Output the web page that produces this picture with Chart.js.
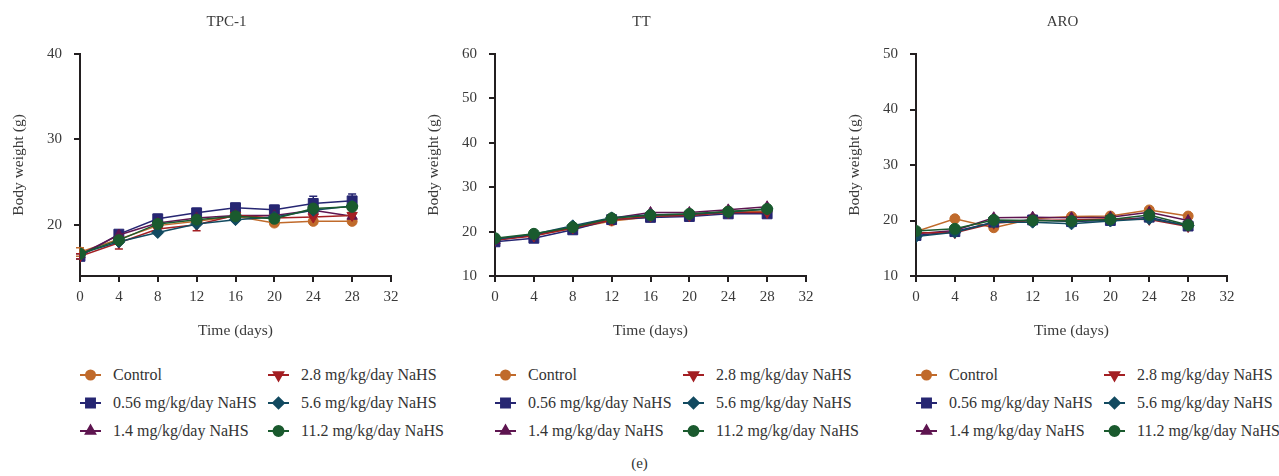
<!DOCTYPE html>
<html>
<head>
<meta charset="utf-8">
<script src="https://cdn.jsdelivr.net/npm/chart.js@4.4.1/dist/chart.umd.min.js"></script>
<style>
  html, body { margin: 0; padding: 0; background: #fff; overflow: hidden; }
  body { width: 1279px; height: 476px; position: relative; font-family: "Liberation Serif", "DejaVu Serif", serif; color: #333; }
  .panel { position: absolute; top: 0; }
  .legend-item { position: absolute; height: 18px; font-size: 16px; line-height: 18px; white-space: nowrap; }
  .legend-item canvas { position: absolute; left: 0; top: 0; }
  .legend-item span { position: absolute; left: 33px; top: 0; }
  #caption { position: absolute; left: 0; width: 1279px; top: 455px; text-align: center; font-size: 15px; }
</style>
</head>
<body>
<div id="caption">(e)</div>
<script>
// x values (days) and groups
const days = [0, 4, 8, 12, 16, 20, 24, 28]
const xTicks = [0, 4, 8, 12, 16, 20, 24, 28, 32]
const groupNames = ['Control', '0.56 mg/kg/day NaHS', '1.4 mg/kg/day NaHS',
  '2.8 mg/kg/day NaHS', '5.6 mg/kg/day NaHS', '11.2 mg/kg/day NaHS']
const groupColors = ['#c06a2b', '#262672', '#5e1550', '#a31f23', '#124a60', '#1a5a2e']
const groupShapes = ['circle', 'rect', 'triangle', 'triangle', 'rectRot', 'circle']
const groupRotation = [0, 0, 0, 180, 0, 0]
const groupRadius = [5, 7, 6, 6, 6, 5.5]

// body weight (g), one row per group in the order of groupNames
const tpc1Weights = [
  [16.8, 18.3, 19.9, 20.4, 21.0, 20.2, 20.4, 20.4],
  [16.3, 18.9, 20.7, 21.4, 22.0, 21.75, 22.5, 22.8],
  [16.5, 18.8, 20.2, 20.8, 21.1, 21.1, 21.7, 21.0],
  [16.3, 17.9, 19.5, 20.0, 21.1, 20.8, 20.9, 21.1],
  [16.6, 18.0, 19.1, 20.1, 20.6, 20.9, 21.7, 22.2],
  [16.6, 18.2, 20.1, 20.6, 21.0, 20.7, 21.9, 22.1]
]
const tpc1Err056 = [0.3, 0.4, 0.5, 0.5, 0.5, 0.5, 0.85, 0.8]
const tpc1Err28 = [0.3, 0.75, 0.3, 0.7, 0.3, 0.3, 0.4, 0.3]
const tpc1ErrControl = [0.5, 0.3, 0.3, 0.3, 0.3, 0.3, 0.3, 0.3]

const ttWeights = [
  [18.2, 19.2, 20.7, 22.4, 23.3, 23.6, 24.6, 24.6],
  [17.7, 18.5, 20.4, 22.7, 23.2, 23.4, 24.0, 24.0],
  [18.0, 19.3, 21.0, 23.0, 24.3, 24.3, 24.9, 25.6],
  [18.1, 19.0, 20.8, 22.6, 23.5, 23.6, 24.3, 24.3],
  [18.3, 19.4, 21.3, 23.1, 23.8, 23.9, 24.4, 25.1],
  [18.5, 19.5, 21.0, 23.0, 23.7, 24.0, 24.5, 25.1]
]

const aroWeights = [
  [18.0, 20.3, 18.7, 20.3, 20.7, 20.8, 21.9, 20.8],
  [17.3, 18.0, 19.7, 20.1, 19.8, 20.0, 20.6, 19.0],
  [17.6, 18.2, 20.5, 20.6, 20.5, 20.6, 21.5, 20.0],
  [17.8, 17.8, 19.5, 20.0, 20.1, 20.3, 20.2, 18.9],
  [17.1, 17.9, 19.7, 19.7, 19.4, 19.9, 20.3, 19.1],
  [18.1, 18.5, 20.1, 20.0, 19.9, 20.2, 21.0, 19.2]
]

const panelTitles = ['TPC-1', 'TT', 'ARO']
const panelYRange = [[14, 40], [10, 60], [10, 50]]
const panelYTicks = [[20, 30, 40], [10, 20, 30, 40, 50, 60], [10, 20, 30, 40, 50]]

const FONT = '"Liberation Serif", "DejaVu Serif", serif'
const AXIS_COLOR = '#231f20'
const TEXT_COLOR = '#3a3a3a'

// vertical error bars with caps, drawn under the markers
const errorBars = {
  id: 'errorBars',
  beforeDatasetsDraw(chart) {
    const ctx = chart.ctx
    const yScale = chart.scales.y
    chart.data.datasets.forEach((ds, i) => {
      if (!ds.errors) return
      const meta = chart.getDatasetMeta(i)
      ctx.save()
      ctx.strokeStyle = ds.borderColor
      ctx.lineWidth = 1.5
      meta.data.forEach((pt, j) => {
        const e = ds.errors[j]
        if (!e) return
        const top = yScale.getPixelForValue(ds.data[j] + e)
        const bot = yScale.getPixelForValue(ds.data[j] - e)
        ctx.beginPath()
        ctx.moveTo(pt.x, top); ctx.lineTo(pt.x, bot)
        ctx.moveTo(pt.x - 4, top); ctx.lineTo(pt.x + 4, top)
        ctx.moveTo(pt.x - 4, bot); ctx.lineTo(pt.x + 4, bot)
        ctx.stroke()
      })
      ctx.restore()
    })
  }
}

// panel title, a little left of the plot centre as in the figure
const panelTitle = {
  id: 'panelTitle',
  afterDraw(chart, args, opts) {
    const { ctx, chartArea } = chart
    ctx.save()
    ctx.font = '15px ' + FONT
    ctx.fillStyle = TEXT_COLOR
    ctx.textAlign = 'center'
    ctx.textBaseline = 'middle'
    ctx.fillText(opts.text, (chartArea.left + chartArea.right) / 2 - 9, 22)
    ctx.restore()
  }
}

const makePanel = (idx, left, weights, errors) => {
  const wrap = document.createElement('div')
  wrap.className = 'panel'
  wrap.style.left = left + 'px'
  const canvas = document.createElement('canvas')
  canvas.width = 452
  canvas.height = 345
  wrap.appendChild(canvas)
  document.body.appendChild(wrap)

  const datasets = groupNames.map((name, g) => ({
    label: name,
    data: weights[g],
    errors: errors ? errors[g] : null,
    borderColor: groupColors[g],
    backgroundColor: groupColors[g],
    borderWidth: 1.5,
    pointStyle: groupShapes[g],
    rotation: groupRotation[g],
    pointRadius: groupRadius[g],
    pointBorderWidth: 1,
    tension: 0,
    // green series sits on top
    order: g === 5 ? 0 : 6 - g
  }))

  new Chart(canvas, {
    type: 'line',
    data: { labels: days, datasets },
    options: {
      responsive: false,
      animation: false,
      layout: { padding: { left: 0, right: 61, top: 54, bottom: 0 } },
      plugins: {
        legend: { display: false },
        tooltip: { enabled: false },
        title: { display: false },
        panelTitle: { text: panelTitles[idx] }
      },
      scales: {
        x: {
          type: 'linear',
          min: 0,
          max: 32,
          afterBuildTicks: (s) => { s.ticks = xTicks.map(v => ({ value: v })) },
          afterFit: (s) => { s.height = 69 },
          grid: { drawOnChartArea: false, drawTicks: true, tickLength: 6, color: AXIS_COLOR, lineWidth: 2 },
          border: { display: true, color: AXIS_COLOR, width: 2 },
          ticks: { color: TEXT_COLOR, padding: 6, maxRotation: 0, font: { family: FONT, size: 15 } },
          title: {
            display: true,
            text: 'Time (days)',
            color: TEXT_COLOR,
            font: { family: FONT, size: 15.5 },
            padding: { top: 0, bottom: 5 }
          }
        },
        y: {
          min: panelYRange[idx][0],
          max: panelYRange[idx][1],
          afterBuildTicks: (s) => { s.ticks = panelYTicks[idx].map(v => ({ value: v })) },
          afterFit: (s) => { s.width = 80 },
          grid: { drawOnChartArea: false, drawTicks: true, tickLength: 6, color: AXIS_COLOR, lineWidth: 2 },
          border: { display: true, color: AXIS_COLOR, width: 2 },
          ticks: { color: TEXT_COLOR, padding: 12, font: { family: FONT, size: 15 } },
          title: {
            display: true,
            text: 'Body weight (g)',
            color: TEXT_COLOR,
            font: { family: FONT, size: 15.5 },
            padding: { top: 10, bottom: 0 }
          }
        }
      }
    },
    plugins: [errorBars, panelTitle]
  })

  // legend: two columns of three, below the plot
  const rowY = [375, 403, 431]
  groupNames.forEach((name, g) => {
    const col = g < 3 ? 0 : 1
    const row = g % 3
    const item = document.createElement('div')
    item.className = 'legend-item'
    item.style.left = (left + 80 + (col === 0 ? 0 : 188)) + 'px'
    item.style.top = (rowY[row] - 9) + 'px'
    const mk = document.createElement('canvas')
    mk.width = 24
    mk.height = 18
    const c = mk.getContext('2d')
    c.strokeStyle = groupColors[g]
    c.lineWidth = 2
    c.beginPath(); c.moveTo(0, 9); c.lineTo(21, 9); c.stroke()
    c.fillStyle = groupColors[g]
    if (Chart.helpers && Chart.helpers.drawPoint) {
      Chart.helpers.drawPoint(c, {
        pointStyle: groupShapes[g],
        rotation: groupRotation[g],
        radius: groupRadius[g] * 0.9,
        borderWidth: 1
      }, 10.5, 9)
    }
    const label = document.createElement('span')
    label.textContent = name
    item.appendChild(mk)
    item.appendChild(label)
    document.body.appendChild(item)
  })
}

makePanel(0, 0, tpc1Weights, [tpc1ErrControl, tpc1Err056, null, tpc1Err28, null, null])
makePanel(1, 415, ttWeights, null)
makePanel(2, 836, aroWeights, null)
</script>
</body>
</html>
